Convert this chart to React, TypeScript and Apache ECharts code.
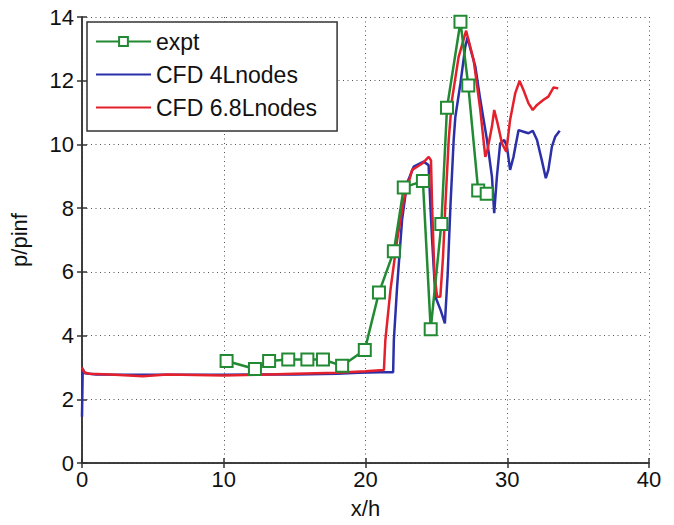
import React, { useEffect, useRef } from "react";
import * as echarts from "echarts";

const xTicks = [0, 10, 20, 30, 40];
const yTicks = [0, 2, 4, 6, 8, 10, 12, 14];

const exptX = [10.2, 12.2, 13.2, 14.55, 15.9, 17.0, 18.35, 19.95, 20.95, 22.0, 22.7, 24.05, 24.6, 25.35, 25.75, 26.7, 27.25, 27.95, 28.55];
const exptY = [3.2, 2.95, 3.2, 3.25, 3.25, 3.25, 3.05, 3.55, 5.35, 6.65, 8.65, 8.85, 4.2, 7.5, 11.15, 13.85, 11.85, 8.55, 8.45];

const cfd4X = [0, 0.05, 0.2, 1, 5, 10, 15, 18, 19.5, 21, 21.95, 22.0, 22.23, 22.58, 22.93, 23.4, 24.1, 24.45, 24.58, 24.7, 24.93, 25.3, 25.6, 25.8, 25.99, 26.22, 26.34, 26.7, 27.04, 27.2, 27.4, 27.75, 28.1, 28.57, 28.92, 29.08, 29.27, 29.5, 29.79, 29.98, 30.2, 30.44, 30.8, 31.15, 31.5, 31.8, 32.1, 32.44, 32.72, 32.9, 33.15, 33.38, 33.7];
const cfd4Y = [1.45, 2.95, 2.82, 2.78, 2.77, 2.77, 2.78, 2.8, 2.83, 2.85, 2.85, 3.86, 5.53, 7.63, 8.78, 9.3, 9.46, 9.35, 8.05, 7.0, 5.22, 4.8, 4.38, 5.95, 8.05, 10.14, 10.87, 11.92, 13.07, 13.36, 13.0, 12.44, 11.4, 10.14, 8.99, 7.84, 8.99, 10.03, 10.14, 9.93, 9.2, 9.61, 10.45, 10.4, 10.35, 10.43, 10.14, 9.5, 8.94, 9.2, 9.93, 10.24, 10.43];

const cfd68X = [0, 0.15, 0.5, 2, 4.3, 6, 10, 12.5, 15, 18, 20, 21.3, 21.4, 21.76, 22.23, 22.7, 23.29, 24.0, 24.46, 24.62, 24.7, 24.86, 25.05, 25.28, 25.47, 25.63, 25.87, 26.1, 26.57, 27.1, 27.63, 28.1, 28.45, 28.6, 28.92, 29.08, 29.32, 29.63, 29.93, 30.2, 30.56, 30.87, 31.15, 31.5, 31.8, 32.1, 32.56, 32.9, 33.27, 33.6];
const cfd68Y = [3.0, 2.85, 2.8, 2.78, 2.72, 2.78, 2.75, 2.77, 2.8, 2.83, 2.88, 2.92, 3.86, 5.43, 7.0, 8.25, 9.2, 9.4, 9.61, 9.5, 8.05, 5.95, 5.22, 5.22, 6.48, 8.05, 10.14, 11.4, 12.75, 13.57, 12.65, 11.08, 9.61, 9.82, 10.56, 11.08, 10.66, 10.03, 9.77, 10.77, 11.6, 11.99, 11.7, 11.29, 11.08, 11.24, 11.4, 11.5, 11.79, 11.76];

const seriesNames = ["expt", "CFD 4Lnodes", "CFD 6.8Lnodes"];
const colors = ["#228a33", "#2b30a8", "#e3202c"];

const zip = (xs: number[], ys: number[]) => xs.map((x, i) => [x, ys[i]]);

const FONT = "'Liberation Sans', Arial, Helvetica, sans-serif";

export default function App() {
  const ref = useRef<HTMLDivElement>(null);
  useEffect(() => {
    if (!ref.current) return;
    const chart = echarts.init(ref.current, null, { renderer: "svg" });
    const axisLine = { show: true, lineStyle: { color: "#333", width: 1.5 } };
    const splitLine = { show: true, lineStyle: { color: "#555", width: 1, type: [1, 3.5] as any } };
    const tick = { show: true, inside: true, length: 5, lineStyle: { color: "#333", width: 1.5 } };
    const label = { color: "#111", fontSize: 22, fontFamily: FONT };
    chart.setOption({
      animation: false,
      backgroundColor: "#fff",
      grid: { left: 81, right: 25, top: 17, bottom: 62, containLabel: false },
      legend: {
        orient: "vertical",
        left: 87,
        top: 22,
        data: [
          { name: seriesNames[0] },
          { name: seriesNames[1], itemStyle: { opacity: 0 } },
          { name: seriesNames[2], itemStyle: { opacity: 0 } },
        ],
        itemWidth: 55,
        itemHeight: 11,
        itemGap: 10,
        padding: [8, 20, 12, 8],
        backgroundColor: "#fff",
        borderColor: "#333",
        borderWidth: 1.5,
        textStyle: { fontSize: 23, fontFamily: FONT, color: "#111" },
      },
      xAxis: [
        {
          type: "value", min: 0, max: 40, interval: 10,
          axisLine, axisTick: tick, splitLine,
          axisLabel: { ...label, margin: 5 },
          name: "x/h", nameLocation: "middle", nameGap: 34,
          nameTextStyle: { fontSize: 22, fontFamily: FONT, color: "#111" },
          data: xTicks,
        },
        {
          type: "value", min: 0, max: 40, interval: 10, position: "top",
          axisLine, axisTick: tick, splitLine: { show: false }, axisLabel: { show: false },
        },
      ],
      yAxis: [
        {
          type: "value", min: 0, max: 14, interval: 2,
          axisLine, axisTick: tick, splitLine,
          axisLabel: { ...label, margin: 8 },
          name: "p/pinf", nameLocation: "middle", nameGap: 52, nameRotate: 90,
          nameTextStyle: { fontSize: 22, fontFamily: FONT, color: "#111" },
          data: yTicks,
        },
        {
          type: "value", min: 0, max: 14, interval: 2, position: "right",
          axisLine, axisTick: tick, splitLine: { show: false }, axisLabel: { show: false },
        },
      ],
      series: [
        {
          name: seriesNames[0], type: "line", data: zip(exptX, exptY),
          symbol: "rect", symbolSize: 12, showSymbol: true,
          itemStyle: { color: "#fff", borderColor: colors[0], borderWidth: 2 },
          lineStyle: { color: colors[0], width: 2.5 }, color: colors[0], z: 3,
        },
        {
          name: seriesNames[1], type: "line", data: zip(cfd4X, cfd4Y), symbol: "none",
          lineStyle: { color: colors[1], width: 2.5 }, color: colors[1], z: 2,
        },
        {
          name: seriesNames[2], type: "line", data: zip(cfd68X, cfd68Y), symbol: "none",
          lineStyle: { color: colors[2], width: 2.5 }, color: colors[2], z: 2,
        },
      ],
    });
    return () => chart.dispose();
  }, []);
  return <div ref={ref} style={{ position: "fixed", left: 0, top: 0, width: 674, height: 525 }} />;
}
